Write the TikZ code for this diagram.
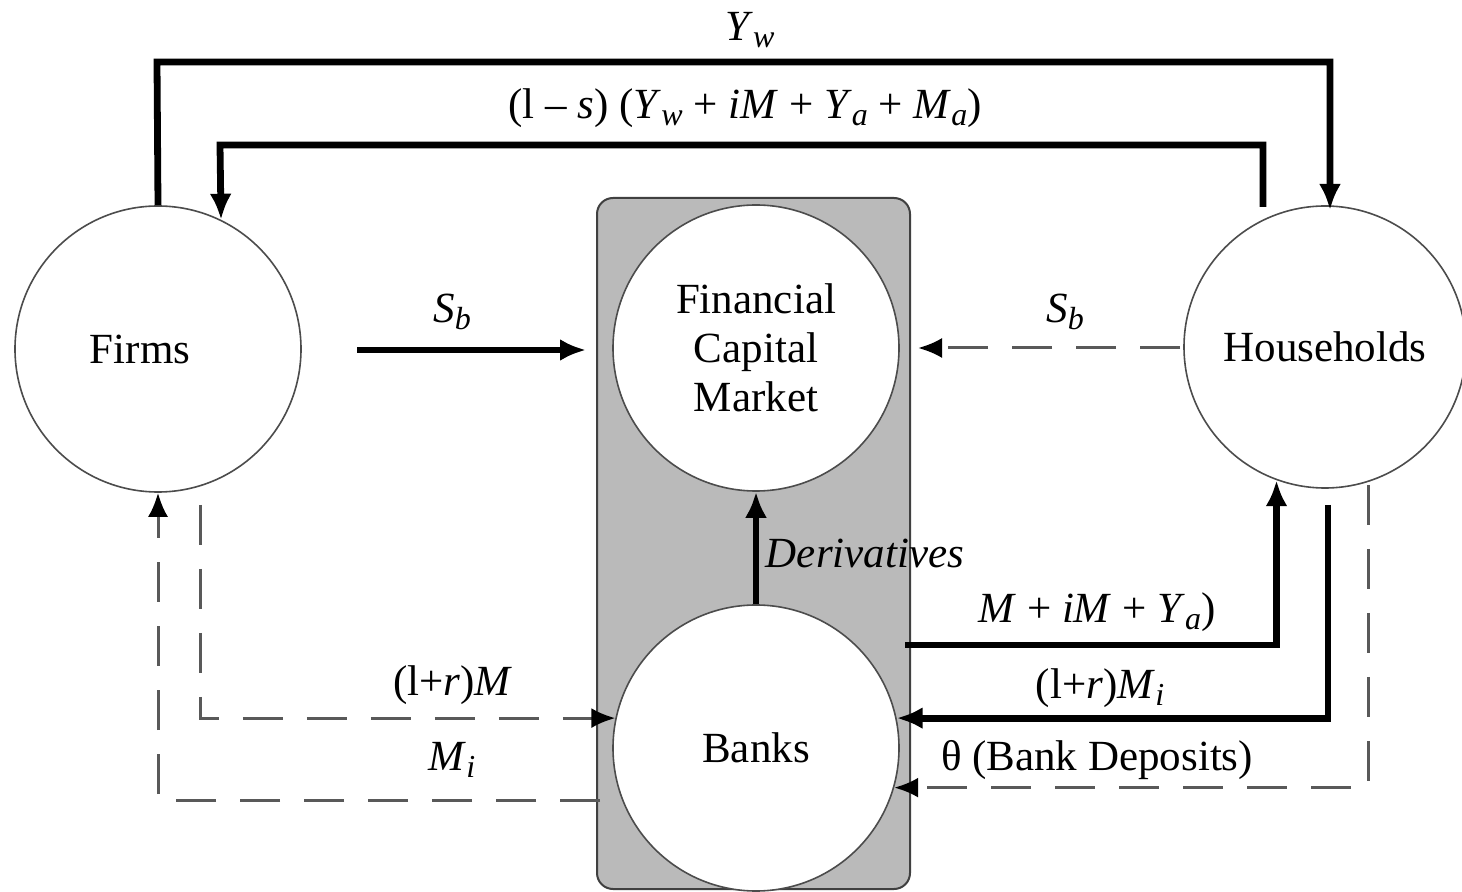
\documentclass[tikz,border=0pt]{standalone}
\usepackage{fontspec}
\setmainfont{Liberation Serif}
\usetikzlibrary{arrows.meta}
\newcommand{\iv}[1]{\textit{#1}}
\newcommand{\sub}[2]{\textit{#1}\raisebox{-3.5pt}{\fontsize{16}{16}\selectfont\textit{#2}}}
\tikzset{
  thickarrow/.style={line width=3.4pt, -{Latex[length=13pt,width=11pt]}},
  dasharrow/.style={line width=1.5pt, draw=black!65, dash pattern=on 20pt off 12pt, -{Latex[length=12pt,width=10pt,color=black]}},
  circ/.style={circle, draw=black!70, line width=0.8pt, fill=white, minimum size=143pt, inner sep=0pt, align=center},
  lbl/.style={inner sep=1pt, align=center},
  every node/.style={font=\fontsize{21.5}{24.5}\selectfont}
}
\begin{document}
\begin{tikzpicture}[x=0.5pt,y=-0.5pt]
\useasboundingbox (0,0) rectangle (1462,892);
\fill[white] (0,0) rectangle (1462,892);
% gray box
\draw[fill=black!27, draw=black!75, line width=1pt, rounded corners=8pt] (597,198) rectangle (910,889);
% circles
\node[circ] (firms) at (158,349) {Firms\hspace{18pt}};
\node[circ, minimum size=141pt] (house) at (1325,347) {Households};
\node[circ] (fcm) at (756,348) {Financial\\Capital\\Market};
\node[circ] (banks) at (756,748) {Banks};
% coordinates
\coordinate (ywl) at (157,62);
\coordinate (ywr) at (1330,62);
\coordinate (hs) at (1263,207);
\coordinate (sl) at (1263,145);
\coordinate (sr) at (220,145);
\coordinate (sba) at (357,350);
\coordinate (sbb) at (586,350);
\coordinate (sbc) at (1180,348);
\coordinate (sbd) at (918,348);
\coordinate (mia) at (905,645);
\coordinate (rma) at (1328,505);
\coordinate (tha) at (1368,485);
\coordinate (rmf) at (200,505);
\coordinate (mif) at (600,800);
% connectors
\draw[thickarrow] (firms.north) -- (ywl) -- (ywr) -- (1330,210);
\draw[thickarrow] (hs) -- (sl) -- (sr) -- (firms.64);
\draw[thickarrow] (sba) -- (sbb);
\draw[dasharrow] (sbc) -- (sbd);
\draw[thickarrow] (banks.north) -- (fcm.south);
\draw[thickarrow] (mia) -| (house.250);
\draw[thickarrow] (rma) |- (banks.12);
\draw[dasharrow] (tha) |- (banks.-16);
\draw[dasharrow] (rmf) |- (banks.168);
\draw[dasharrow] (mif) -| (firms.south);
% labels
\node[lbl] (lyw) at (750,30) {\sub{Y}{w}};
\node[lbl] (ls) at (745,108) {(l – \iv{s}) (\sub{Y}{w} + \iv{iM} + \sub{Y}{a} + \sub{M}{a})};
\node[lbl] (lsb1) at (452,312) {\sub{S}{b}};
\node[lbl] (lsb2) at (1065,312) {\sub{S}{b}};
\node[lbl] (lder) at (865,553) {\iv{Derivatives}};
\node[lbl] (lmim) at (1097,612) {\iv{M} + \iv{iM} + \sub{Y}{a})};
\node[lbl] (lrmi) at (1100,688) {(l+\iv{r})\sub{M}{i}};
\node[lbl] (lth) at (1097,760) {θ (Bank Deposits)};
\node[lbl] (lrm) at (453,685) {(l+\iv{r})\iv{M}};
\node[lbl] (lmi) at (452,760) {\sub{M}{i}};
\end{tikzpicture}
\end{document}
